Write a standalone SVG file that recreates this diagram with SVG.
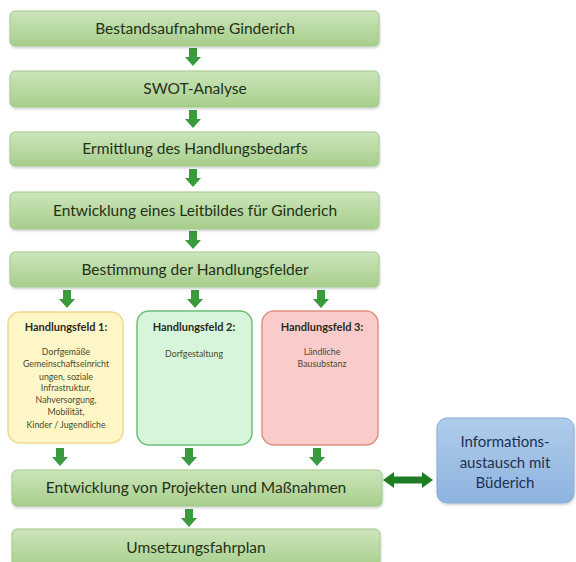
<svg xmlns="http://www.w3.org/2000/svg" xmlns:xlink="http://www.w3.org/1999/xlink" width="576" height="562" viewBox="0 0 576 562">
<defs>
  <linearGradient id="gGreen" x1="0" y1="0" x2="0" y2="1">
    <stop offset="0" stop-color="#cce5bb"/>
    <stop offset="1" stop-color="#a7ce8b"/>
  </linearGradient>
  <linearGradient id="gBlue" x1="0" y1="0" x2="0" y2="1">
    <stop offset="0" stop-color="#b0cdeb"/>
    <stop offset="1" stop-color="#8db3df"/>
  </linearGradient>
  <path id="darr" d="M-4,0 H4 V9 H8 L0,18 L-8,9 H-4 Z"/>
  <filter id="sh" x="-5%" y="-10%" width="110%" height="130%">
    <feDropShadow dx="0.5" dy="1.5" stdDeviation="1" flood-color="#000" flood-opacity="0.2"/>
  </filter>
</defs>
<style>
  .step{fill:url(#gGreen);stroke:#a3c98a;stroke-width:1;filter:url(#sh)}
  .st{font-family:Lato,"Liberation Sans",sans-serif;font-size:15.5px;fill:#243118;text-anchor:middle}
  .hft{font-family:Lato,"Liberation Sans",sans-serif;font-size:11px;font-weight:bold;fill:#2a2a1a;text-anchor:middle}
  .hfb{font-family:Lato,"Liberation Sans",sans-serif;font-size:8.8px;fill:#4a4a30;text-anchor:middle}
  .arr{fill:#3a9a3e}
  .info{font-family:Lato,"Liberation Sans",sans-serif;font-size:15px;fill:#1f3050;text-anchor:middle}
</style>
<rect width="576" height="562" fill="#ffffff"/>

<g id="connectors">
  <use xlink:href="#darr" class="arr" x="193" y="48"/>
  <use xlink:href="#darr" class="arr" x="193" y="110"/>
  <use xlink:href="#darr" class="arr" x="193" y="169"/>
  <use xlink:href="#darr" class="arr" x="193" y="231"/>
  <use xlink:href="#darr" class="arr" x="67" y="290"/>
  <use xlink:href="#darr" class="arr" x="195" y="290"/>
  <use xlink:href="#darr" class="arr" x="321" y="290"/>
  <use xlink:href="#darr" class="arr" x="60" y="448"/>
  <use xlink:href="#darr" class="arr" x="189" y="448"/>
  <use xlink:href="#darr" class="arr" x="317" y="448"/>
  <use xlink:href="#darr" class="arr" x="189" y="509"/>
  <path d="M383,480 L394,472 V476.5 H422 V472 L433,480 L422,488 V483.5 H394 V488 Z" fill="#1f7d24"/>
</g>

<g id="n1">
  <rect class="step" x="10" y="11" width="369" height="35" rx="5"/>
  <text class="st" x="195" y="34">Bestandsaufnahme Ginderich</text>
</g>
<g id="n2">
  <rect class="step" x="10" y="71" width="369" height="36" rx="5"/>
  <text class="st" x="195" y="94">SWOT-Analyse</text>
</g>
<g id="n3">
  <rect class="step" x="10" y="132" width="369" height="34" rx="5"/>
  <text class="st" x="195" y="154">Ermittlung des Handlungsbedarfs</text>
</g>
<g id="n4">
  <rect class="step" x="10" y="192" width="369" height="37" rx="5"/>
  <text class="st" x="195" y="216">Entwicklung eines Leitbildes für Ginderich</text>
</g>
<g id="n5">
  <rect class="step" x="10" y="252" width="369" height="35" rx="5"/>
  <text class="st" x="195" y="275">Bestimmung der Handlungsfelder</text>
</g>

<g id="hf1">
  <rect x="8" y="312" width="115" height="131" rx="12" fill="#fff6c8" stroke="#f0d98a" stroke-width="1.5"/>
  <text class="hft" x="66" y="331">Handlungsfeld 1:</text>
  <text class="hfb" x="66" y="355">Dorfgemäße</text>
  <text class="hfb" x="66" y="367">Gemeinschaftseinricht</text>
  <text class="hfb" x="66" y="380">ungen, soziale</text>
  <text class="hfb" x="66" y="391">Infrastruktur,</text>
  <text class="hfb" x="66" y="403">Nahversorgung,</text>
  <text class="hfb" x="66" y="415">Mobilität,</text>
  <text class="hfb" x="66" y="428">Kinder / Jugendliche</text>
</g>
<g id="hf2">
  <rect x="137" y="311" width="115" height="134" rx="12" fill="#d6f5da" stroke="#6cbf7a" stroke-width="1.5"/>
  <text class="hft" x="194" y="331">Handlungsfeld 2:</text>
  <text class="hfb" x="194" y="357">Dorfgestaltung</text>
</g>
<g id="hf3">
  <rect x="262" y="311" width="116" height="134" rx="12" fill="#f9cccb" stroke="#df917f" stroke-width="1.5"/>
  <text class="hft" x="322" y="331">Handlungsfeld 3:</text>
  <text class="hfb" x="322" y="355">Ländliche</text>
  <text class="hfb" x="322" y="367">Bausubstanz</text>
</g>

<g id="n6">
  <rect class="step" x="12" y="470" width="370" height="36" rx="5"/>
  <text class="st" x="196" y="493">Entwicklung von Projekten und Maßnahmen</text>
</g>
<g id="n7">
  <rect class="step" x="12" y="529" width="368" height="40" rx="5"/>
  <text class="st" x="196" y="553">Umsetzungsfahrplan</text>
</g>

<g id="info">
  <rect x="437" y="418" width="137" height="85" rx="10" fill="url(#gBlue)" stroke="#88acd6" stroke-width="1" filter="url(#sh)"/>
  <text class="info" x="505" y="447">Informations-</text>
  <text class="info" x="505" y="468">austausch mit</text>
  <text class="info" x="505" y="488">Büderich</text>
</g>
</svg>
